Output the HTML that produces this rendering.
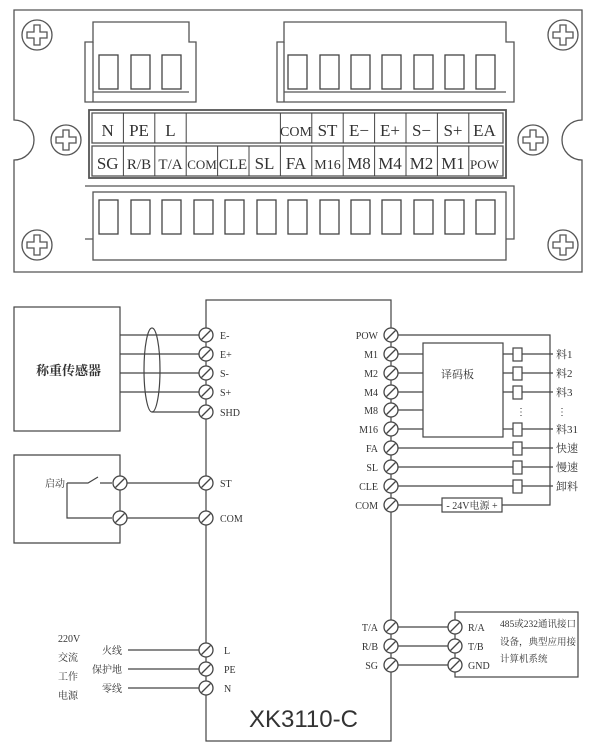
<!DOCTYPE html>
<html><head><meta charset="utf-8"><style>
html,body{margin:0;padding:0;background:#fff;}
svg{display:block;}
text{font-family:"Liberation Serif","Noto Serif CJK SC",serif;fill:#333;}
</style></head><body>
<svg width="600" height="755" viewBox="0 0 600 755" xmlns="http://www.w3.org/2000/svg">
<defs>
<g id="scr"><circle r="15" fill="#fff" stroke="#555" stroke-width="1.3"/><path d="M-3,-10 h6 v7 h7 v6 h-7 v7 h-6 v-7 h-7 v-6 h7 z" fill="#fff" stroke="#555" stroke-width="1.3"/></g>
<g id="t"><circle r="7" fill="#fff" stroke="#444" stroke-width="1.3"/><line x1="-4.5" y1="4.5" x2="4.5" y2="-4.5" stroke="#444" stroke-width="1.3"/></g>
</defs>
<g fill="none" stroke="#555" stroke-width="1.3">
<path d="M14,10 H582 V120 A20,20 0 0 0 582,160 V272 H14 V160 A20,20 0 0 0 14,120 Z"/>
<path d="M85,42 H93 V22 H189 V42 H196 V102 H85 Z"/><line x1="93" y1="92" x2="189" y2="92"/><line x1="93" y1="42" x2="93" y2="102"/>
<path d="M277,42 H284 V22 H506 V42 H514 V102 H277 Z"/><line x1="284" y1="92" x2="506" y2="92"/><line x1="284" y1="42" x2="284" y2="102"/>
<rect x="89" y="110" width="417" height="68" stroke-width="1.8"/>
<rect x="92" y="113" width="411" height="30"/>
<rect x="92" y="146" width="411" height="30"/>
<path d="M85,186 H514 V239 H506 M93,239 H85 Z"/>
<rect x="93" y="192" width="413" height="68"/>
</g>
<g fill="#fff" stroke="#444" stroke-width="1.3">
<rect x="99" y="55" width="19" height="34"/><rect x="131" y="55" width="19" height="34"/><rect x="162" y="55" width="19" height="34"/>
<rect x="288" y="55" width="19" height="34"/><rect x="320" y="55" width="19" height="34"/><rect x="351" y="55" width="19" height="34"/><rect x="382" y="55" width="19" height="34"/><rect x="414" y="55" width="19" height="34"/><rect x="445" y="55" width="19" height="34"/><rect x="476" y="55" width="19" height="34"/>
<rect x="99" y="200" width="19" height="34"/><rect x="131" y="200" width="19" height="34"/><rect x="162" y="200" width="19" height="34"/><rect x="194" y="200" width="19" height="34"/><rect x="225" y="200" width="19" height="34"/><rect x="257" y="200" width="19" height="34"/><rect x="288" y="200" width="19" height="34"/><rect x="320" y="200" width="19" height="34"/><rect x="351" y="200" width="19" height="34"/><rect x="382" y="200" width="19" height="34"/><rect x="414" y="200" width="19" height="34"/><rect x="445" y="200" width="19" height="34"/><rect x="476" y="200" width="19" height="34"/>
</g>
<g stroke="#444" stroke-width="1">
<line x1="123.4" y1="113" x2="123.4" y2="143"/><line x1="154.8" y1="113" x2="154.8" y2="143"/><line x1="186.2" y1="113" x2="186.2" y2="143"/><line x1="280.4" y1="113" x2="280.4" y2="143"/><line x1="311.8" y1="113" x2="311.8" y2="143"/><line x1="343.2" y1="113" x2="343.2" y2="143"/><line x1="374.6" y1="113" x2="374.6" y2="143"/><line x1="406" y1="113" x2="406" y2="143"/><line x1="437.4" y1="113" x2="437.4" y2="143"/><line x1="468.8" y1="113" x2="468.8" y2="143"/>
<line x1="123.4" y1="146" x2="123.4" y2="176"/><line x1="154.8" y1="146" x2="154.8" y2="176"/><line x1="186.2" y1="146" x2="186.2" y2="176"/><line x1="217.6" y1="146" x2="217.6" y2="176"/><line x1="249" y1="146" x2="249" y2="176"/><line x1="280.4" y1="146" x2="280.4" y2="176"/><line x1="311.8" y1="146" x2="311.8" y2="176"/><line x1="343.2" y1="146" x2="343.2" y2="176"/><line x1="374.6" y1="146" x2="374.6" y2="176"/><line x1="406" y1="146" x2="406" y2="176"/><line x1="437.4" y1="146" x2="437.4" y2="176"/><line x1="468.8" y1="146" x2="468.8" y2="176"/>
</g>
<g font-size="17" text-anchor="middle">
<text x="107.7" y="136">N</text><text x="139" y="136">PE</text><text x="170.5" y="136">L</text>
<text x="296" y="136" font-size="14">COM</text><text x="327.5" y="136">ST</text><text x="359" y="136">E−</text><text x="390" y="136">E+</text><text x="421.5" y="136">S−</text><text x="453" y="136">S+</text><text x="484.5" y="136">EA</text>
<text x="107.7" y="169">SG</text><text x="139" y="169" font-size="15">R/B</text><text x="170.5" y="169" font-size="15">T/A</text><text x="202" y="169" font-size="13">COM</text><text x="233" y="169" font-size="15">CLE</text><text x="264.5" y="169">SL</text><text x="296" y="169">FA</text><text x="327.5" y="169" font-size="14">M16</text><text x="359" y="169">M8</text><text x="390" y="169">M4</text><text x="421.5" y="169">M2</text><text x="453" y="169">M1</text><text x="484.5" y="169" font-size="13">POW</text>
</g>
<use href="#scr" x="37" y="35"/><use href="#scr" x="563" y="35"/><use href="#scr" x="66" y="140"/><use href="#scr" x="533" y="140"/><use href="#scr" x="37" y="245"/><use href="#scr" x="563" y="245"/>

<g fill="none" stroke="#444" stroke-width="1.2">
<rect x="206" y="300" width="185" height="441"/>
<rect x="14" y="307" width="106" height="124"/>
<path d="M14,455 H120 V543 H14 Z"/>
<line x1="120" y1="335" x2="199" y2="335"/><line x1="120" y1="354" x2="199" y2="354"/><line x1="120" y1="373" x2="199" y2="373"/><line x1="120" y1="392" x2="199" y2="392"/>
<ellipse cx="152" cy="370" rx="8" ry="42"/><line x1="152" y1="412" x2="199" y2="412"/>
<path d="M67,483 H88 L98,477 M100,483 H112"/><path d="M67,483 V518 H112"/>
<line x1="127" y1="483" x2="199" y2="483"/><line x1="127" y1="518" x2="199" y2="518"/>
<path d="M398,335 H550 V505 H502"/>
<rect x="423" y="343" width="80" height="94"/>
<line x1="398" y1="354" x2="423" y2="354"/><line x1="398" y1="373" x2="423" y2="373"/><line x1="398" y1="392" x2="423" y2="392"/><line x1="398" y1="410" x2="423" y2="410"/><line x1="398" y1="429" x2="423" y2="429"/>
<line x1="503" y1="354" x2="553" y2="354"/><line x1="503" y1="373" x2="553" y2="373"/><line x1="503" y1="392" x2="553" y2="392"/><line x1="503" y1="429" x2="553" y2="429"/>
<line x1="398" y1="448" x2="553" y2="448"/><line x1="398" y1="467" x2="553" y2="467"/><line x1="398" y1="486" x2="553" y2="486"/>
<line x1="398" y1="505" x2="442" y2="505"/><rect x="442" y="498" width="60" height="14"/>
<line x1="128" y1="650" x2="199" y2="650"/><line x1="128" y1="669" x2="199" y2="669"/><line x1="128" y1="688" x2="199" y2="688"/>
<line x1="398" y1="627" x2="448" y2="627"/><line x1="398" y1="646" x2="448" y2="646"/><line x1="398" y1="665" x2="448" y2="665"/>
<rect x="455" y="612" width="123" height="65"/>
</g>
<g fill="#fff" stroke="#444" stroke-width="1.2">
<rect x="513" y="348" width="9" height="13"/><rect x="513" y="367" width="9" height="13"/><rect x="513" y="386" width="9" height="13"/><rect x="513" y="423" width="9" height="13"/><rect x="513" y="442" width="9" height="13"/><rect x="513" y="461" width="9" height="13"/><rect x="513" y="480" width="9" height="13"/>
</g>
<g>
<use href="#t" x="206" y="335"/><use href="#t" x="206" y="354"/><use href="#t" x="206" y="373"/><use href="#t" x="206" y="392"/><use href="#t" x="206" y="412"/>
<use href="#t" x="206" y="483"/><use href="#t" x="206" y="518"/><use href="#t" x="120" y="483"/><use href="#t" x="120" y="518"/>
<use href="#t" x="391" y="335"/><use href="#t" x="391" y="354"/><use href="#t" x="391" y="373"/><use href="#t" x="391" y="392"/><use href="#t" x="391" y="410"/><use href="#t" x="391" y="429"/><use href="#t" x="391" y="448"/><use href="#t" x="391" y="467"/><use href="#t" x="391" y="486"/><use href="#t" x="391" y="505"/>
<use href="#t" x="206" y="650"/><use href="#t" x="206" y="669"/><use href="#t" x="206" y="688"/>
<use href="#t" x="391" y="627"/><use href="#t" x="391" y="646"/><use href="#t" x="391" y="665"/>
<use href="#t" x="455" y="627"/><use href="#t" x="455" y="646"/><use href="#t" x="455" y="665"/>
</g>
<g font-size="10">
<text x="220" y="339">E-</text><text x="220" y="358">E+</text><text x="220" y="377">S-</text><text x="220" y="396">S+</text><text x="220" y="416">SHD</text>
<text x="220" y="487">ST</text><text x="220" y="522">COM</text>
<text x="224" y="654">L</text><text x="224" y="673">PE</text><text x="224" y="692">N</text>
<g text-anchor="end">
<text x="378" y="339">POW</text><text x="378" y="358">M1</text><text x="378" y="377">M2</text><text x="378" y="396">M4</text><text x="378" y="414">M8</text><text x="378" y="433">M16</text><text x="378" y="452">FA</text><text x="378" y="471">SL</text><text x="378" y="490">CLE</text><text x="378" y="509">COM</text>
<text x="378" y="631">T/A</text><text x="378" y="650">R/B</text><text x="378" y="669">SG</text>
<text x="122" y="654">火线</text><text x="122" y="673">保护地</text><text x="122" y="692">零线</text>
</g>
<text x="468" y="631">R/A</text><text x="468" y="650">T/B</text><text x="468" y="669">GND</text>
<text x="556" y="358" font-size="11">料1</text><text x="556" y="377" font-size="11">料2</text><text x="556" y="396" font-size="11">料3</text><text x="557" y="415">⋮</text><text x="516" y="415">⋮</text>
<text x="556" y="433" font-size="11">料31</text><text x="556" y="452" font-size="11">快速</text><text x="556" y="471" font-size="11">慢速</text><text x="556" y="490" font-size="11">卸料</text>
<text x="472" y="509" text-anchor="middle">- 24V电源 +</text>
<text x="441" y="378" font-size="11">译码板</text>
<text x="45" y="487">启动</text>
<text x="58" y="642">220V</text><text x="58" y="661">交流</text><text x="58" y="680">工作</text><text x="58" y="699">电源</text>
<g font-size="9.5"><text x="500" y="627">485或232通讯接口</text><text x="500" y="645">设备，典型应用接</text><text x="500" y="662">计算机系统</text></g>
</g>
<text x="36" y="375" font-size="13" font-weight="bold">称重传感器</text>
<text x="249" y="727" font-size="24" style="font-family:'Liberation Sans',sans-serif" fill="#222">XK3110-C</text>
</svg>
</body></html>
